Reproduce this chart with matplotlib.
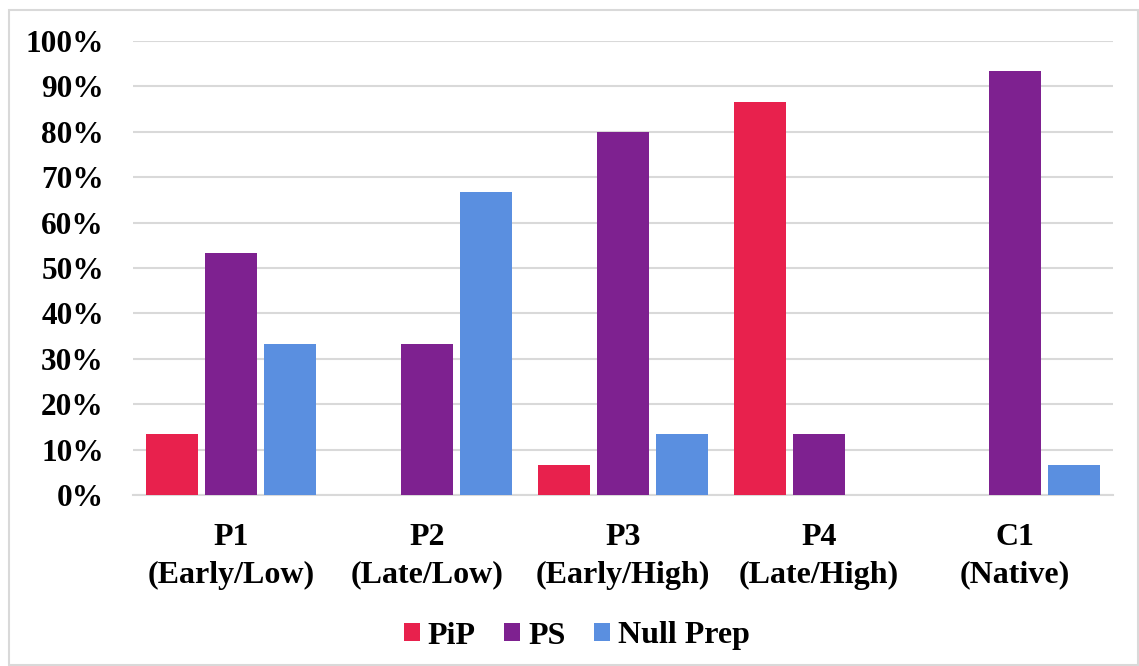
import numpy as np
import matplotlib.pyplot as plt
from matplotlib.patches import Rectangle
from matplotlib.ticker import PercentFormatter

categories = ['P1\n(Early/Low)', 'P2\n(Late/Low)', 'P3\n(Early/High)', 'P4\n(Late/High)', 'C1\n(Native)']
pip = [13.33, 0, 6.67, 86.67, 0]
ps = [53.33, 33.33, 80.0, 13.33, 93.33]
null_prep = [33.33, 66.67, 13.33, 0, 6.67]

plt.rcParams['font.family'] = ['Liberation Serif', 'DejaVu Serif']
plt.rcParams['font.weight'] = 'bold'

fig = plt.figure(figsize=(11.39, 6.66), dpi=100)
ax = fig.add_axes([133/1139, 1-495/666, (1113-133)/1139, (495-41)/666])

x = np.arange(len(categories))
w = 0.265
step = 0.30
ax.bar(x - step, pip, w, color='#E8214D', label='PiP', zorder=3)
ax.bar(x, ps, w, color='#7E2190', label='PS', zorder=3)
ax.bar(x + step, null_prep, w, color='#5A8FE0', label='Null Prep', zorder=3)

ax.set_xlim(-0.5, len(categories) - 0.5)
ax.set_ylim(0, 100)
ax.set_yticks(np.arange(0, 101, 10))
ax.yaxis.set_major_formatter(PercentFormatter(decimals=0))
ax.set_xticks(x)
ax.set_xticklabels(categories, linespacing=1.4)
ax.grid(axis='y', color='#D9D9D9', lw=1.5, zorder=0)
for s in ['top', 'right', 'left']:
    ax.spines[s].set_visible(False)
ax.spines['bottom'].set_color('#D9D9D9')
ax.spines['bottom'].set_linewidth(1.5)
ax.tick_params(axis='y', length=0, labelsize=22.5, pad=21)
ax.tick_params(axis='x', length=0, labelsize=23, pad=20)

ax.legend(loc='center', bbox_to_anchor=(577/1139, 1-636/666), bbox_transform=fig.transFigure,
          ncol=3, frameon=False, fontsize=23, handlelength=0.5, handleheight=0.5,
          handletextpad=0.25, columnspacing=0.9)

fig.patches.append(Rectangle((9/1139, 0.002), 1-9/1139 - 0.001, 1-10/666 - 0.002, transform=fig.transFigure,
                             fill=False, edgecolor='#D9D9D9', lw=1.5))

fig.savefig('out.png', dpi=100)
